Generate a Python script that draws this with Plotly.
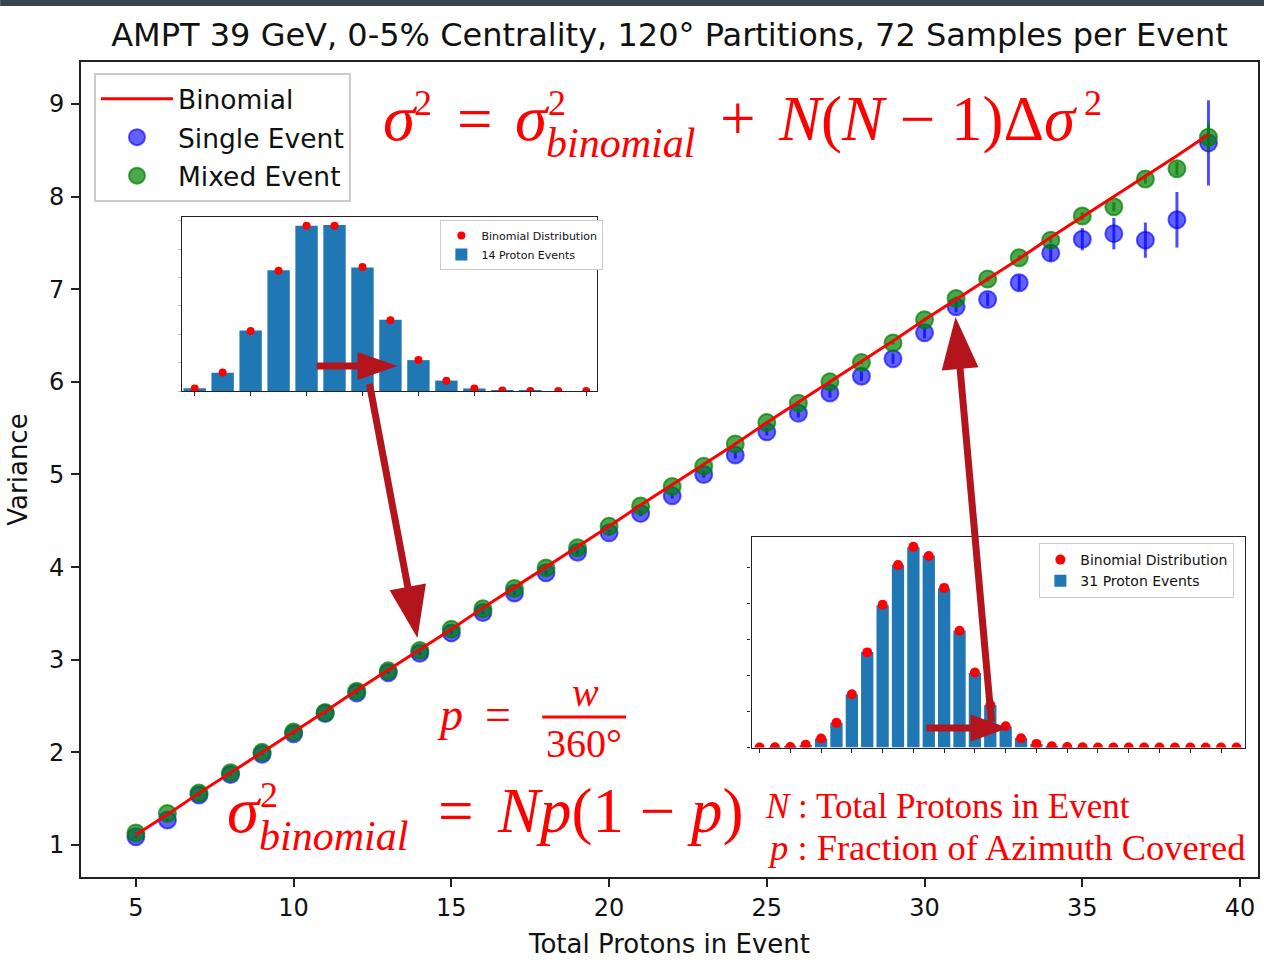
import plotly.graph_objects as go

# ---------------- data ----------------
n_protons = list(range(5, 40))

binomial_var = [1.11, 1.33, 1.56, 1.78, 2.00, 2.22, 2.44, 2.67, 2.89, 3.11,
                3.33, 3.56, 3.78, 4.00, 4.22, 4.44, 4.67, 4.89, 5.11, 5.33,
                5.56, 5.78, 6.00, 6.22, 6.44, 6.67, 6.89, 7.11, 7.33, 7.56,
                7.78, 8.00, 8.22, 8.44, 8.67]

single_var = [1.09, 1.27, 1.54, 1.76, 1.98, 2.20, 2.42, 2.64, 2.86, 3.07,
              3.29, 3.51, 3.72, 3.94, 4.16, 4.37, 4.58, 4.77, 5.00, 5.21,
              5.46, 5.66, 5.88, 6.06, 6.25, 6.53, 6.81, 6.89, 7.07, 7.39,
              7.54, 7.60, 7.53, 7.75, 8.58]
single_err = [0.01, 0.01, 0.01, 0.01, 0.01, 0.01, 0.015, 0.015, 0.015, 0.02,
              0.02, 0.02, 0.02, 0.025, 0.025, 0.03, 0.03, 0.03, 0.035, 0.04,
              0.04, 0.045, 0.05, 0.05, 0.055, 0.06, 0.06, 0.07, 0.08, 0.09,
              0.12, 0.17, 0.19, 0.30, 0.46]

mixed_var = [1.13, 1.34, 1.56, 1.78, 2.00, 2.22, 2.43, 2.66, 2.88, 3.10,
             3.33, 3.55, 3.77, 3.99, 4.21, 4.44, 4.66, 4.87, 5.09, 5.33,
             5.56, 5.77, 6.00, 6.21, 6.42, 6.67, 6.90, 7.11, 7.34, 7.53,
             7.79, 7.89, 8.19, 8.30, 8.64]
mixed_err = [0.005, 0.005, 0.005, 0.005, 0.005, 0.005, 0.005, 0.005, 0.005, 0.008,
             0.008, 0.008, 0.008, 0.01, 0.01, 0.01, 0.01, 0.012, 0.012, 0.012,
             0.015, 0.015, 0.015, 0.018, 0.018, 0.02, 0.02, 0.025, 0.025, 0.03,
             0.04, 0.05, 0.05, 0.07, 0.15]

k_14 = list(range(15))
binom_14 = [0.0034, 0.0240, 0.0779, 0.1559, 0.2143, 0.2143, 0.1607, 0.0918,
            0.0402, 0.0134, 0.0033, 0.0006, 0.0001, 0.0000, 0.0000]
events_14 = [0.0036, 0.0236, 0.0784, 0.1566, 0.2141, 0.2150, 0.1601, 0.0924,
             0.0400, 0.0135, 0.0033, 0.0006, 0.0001, 0.0000, 0.0000]

k_31 = list(range(32))
binom_31 = [0.0000, 0.0001, 0.0004, 0.0020, 0.0068, 0.0185, 0.0400, 0.0714,
            0.1071, 0.1369, 0.1506, 0.1438, 0.1198, 0.0876, 0.0563, 0.0319,
            0.0160, 0.0070, 0.0027, 0.0009, 0.0003, 0.0001, 0.0000, 0.0000,
            0.0000, 0.0000, 0.0000, 0.0000, 0.0000, 0.0000, 0.0000, 0.0000]
events_31 = [0.0000, 0.0001, 0.0004, 0.0019, 0.0067, 0.0186, 0.0398, 0.0716,
             0.1068, 0.1372, 0.1503, 0.1441, 0.1195, 0.0879, 0.0560, 0.0317,
             0.0158, 0.0071, 0.0027, 0.0009, 0.0003, 0.0001, 0.0000, 0.0000,
             0.0000, 0.0000, 0.0000, 0.0000, 0.0000, 0.0000, 0.0000, 0.0000]

x_ticks = [5, 10, 15, 20, 25, 30, 35, 40]
y_ticks = [1, 2, 3, 4, 5, 6, 7, 8, 9]

TITLE = "AMPT 39 GeV, 0-5% Centrality, 120° Partitions, 72 Samples per Event"

# ---------------- geometry helpers ----------------
W, H = 1266, 962
ML, MR, MT, MB = 81, 6, 62, 85
PW = W - ML - MR
PH = H - MT - MB
ARROW_RED = "rgb(180,20,28)"
SERIF = "Liberation Serif"


def paper(x, y):
    """Figure pixel position -> paper coordinates."""
    return (x - ML) / PW, (H - MB - y) / PH


def domain(x0, x1, y_top, y_bottom):
    a, b = paper(x0, y_bottom)
    c, d = paper(x1, y_top)
    return [a, c], [b, d]


fig = go.Figure()

# ---------------- main panel ----------------
fig.add_trace(go.Scatter(
    x=n_protons, y=single_var, mode="markers", name="Single Event",
    legendgroup="s", legendrank=2,
    marker=dict(size=17, color="rgba(0,0,255,0.62)",
                line=dict(color="rgba(0,0,255,0.62)", width=2)),
    error_y=dict(type="data", array=single_err, color="rgba(0,0,255,0.7)",
                 thickness=3, width=0),
))
fig.add_trace(go.Scatter(
    x=n_protons, y=mixed_var, mode="markers", name="Mixed Event",
    legendgroup="m", legendrank=3,
    marker=dict(size=17, color="rgba(0,128,0,0.7)",
                line=dict(color="rgba(0,128,0,0.7)", width=2)),
    error_y=dict(type="data", array=mixed_err, color="rgba(0,128,0,0.75)",
                 thickness=3, width=0),
))
fig.add_trace(go.Scatter(
    x=n_protons, y=binomial_var, mode="lines", name="Binomial",
    legendgroup="b", legendrank=1,
    line=dict(color="#ff0000", width=3),
))

# ---------------- inset distributions ----------------
fig.add_trace(go.Bar(
    x=k_14, y=events_14, name="14 Proton Events", width=0.8,
    marker=dict(color="#1f77b4", line=dict(width=0)),
    xaxis="x2", yaxis="y2", legend="legend2", legendrank=2,
))
fig.add_trace(go.Scatter(
    x=k_14, y=binom_14, mode="markers", name="Binomial Distribution",
    marker=dict(color="#ff0000", size=8),
    xaxis="x2", yaxis="y2", legend="legend2", legendrank=1,
))
fig.add_trace(go.Bar(
    x=k_31, y=events_31, name="31 Proton Events", width=0.8,
    marker=dict(color="#1f77b4", line=dict(width=0)),
    xaxis="x3", yaxis="y3", legend="legend3", legendrank=2,
))
fig.add_trace(go.Scatter(
    x=k_31, y=binom_31, mode="markers", name="Binomial Distribution",
    marker=dict(color="#ff0000", size=10),
    xaxis="x3", yaxis="y3", legend="legend3", legendrank=1,
))

frame = dict(showline=True, linecolor="#222", mirror=True, showgrid=False,
             zeroline=False)
main_axis = dict(frame, linewidth=2, ticks="outside", ticklen=8, tickwidth=1.5,
                 tickcolor="#222", tickfont=dict(size=24, color="#111"))
inset_axis = dict(frame, linewidth=1.2, ticks="outside", ticklen=4, tickwidth=1,
                  tickcolor="#222", showticklabels=False)

in1_x, in1_y = domain(182, 598, 217, 391)
in2_x, in2_y = domain(752.7, 1246.7, 537, 747.5)

lg_main = paper(94, 73)
lg_in1 = paper(441, 220)
lg_in2 = paper(1041, 543)

fig.update_layout(
    width=W, height=H,
    margin=dict(l=ML, r=MR, t=MT, b=MB),
    paper_bgcolor="white", plot_bgcolor="white",
    font=dict(family="DejaVu Sans", color="#111"),
    title=dict(text=TITLE, x=0.5, xref="paper", xanchor="center",
               y=1 - 35 / H, yref="container", yanchor="middle",
               font=dict(size=32, color="#111")),
    xaxis=dict(main_axis, range=[3.26, 40.57], tickvals=x_ticks,
               ticklabelstandoff=0,
               title=dict(text="Total Protons in Event", font=dict(size=26),
                          standoff=14)),
    yaxis=dict(main_axis, range=[0.6545, 9.453], tickvals=y_ticks,
               ticklabelstandoff=2,
               title=dict(text="Variance", font=dict(size=26), standoff=14)),
    xaxis2=dict(inset_axis, domain=in1_x, anchor="y2", range=[-0.46, 14.39],
                tickvals=k_14[::2]),
    yaxis2=dict(inset_axis, domain=in1_y, anchor="x2", range=[0, 0.2255],
                dtick=0.0368, ticklen=3, tickcolor="#bbbbbb"),
    xaxis3=dict(inset_axis, domain=in2_x, anchor="y3", range=[-0.52, 31.54],
                tickvals=k_31[::2]),
    yaxis3=dict(inset_axis, domain=in2_y, anchor="x3", range=[0, 0.158],
                dtick=0.027, ticklen=3),
    legend=dict(x=lg_main[0], y=lg_main[1], xanchor="left", yanchor="top",
                bgcolor="white", bordercolor="#cccccc", borderwidth=2,
                font=dict(size=26.5, color="#111"), itemwidth=72,
                tracegroupgap=1),
    legend2=dict(x=lg_in1[0], y=lg_in1[1], xanchor="left", yanchor="top",
                 bgcolor="white", bordercolor="#cccccc", borderwidth=1,
                 font=dict(size=11, color="#111"), itemwidth=30),
    legend3=dict(x=lg_in2[0], y=lg_in2[1], xanchor="left", yanchor="top",
                 bgcolor="white", bordercolor="#cccccc", borderwidth=1,
                 font=dict(size=14, color="#111"), itemwidth=30),
    barmode="overlay",
)

# ---------------- decorations ----------------
shapes = []

# dark header strip along the top edge
sx0, sy0 = paper(0, 0)
sx1, sy1 = paper(W, 6)
shapes.append(dict(type="rect", xref="paper", yref="paper", x0=sx0, x1=sx1,
                   y0=sy1, y1=sy0, fillcolor="#36454f", line=dict(width=0),
                   layer="above"))


def arrow(tail, tip, head_len, head_w, shaft_w=7):
    tx, ty = tail
    hx, hy = tip
    dx, dy = hx - tx, hy - ty
    length = (dx * dx + dy * dy) ** 0.5
    ux, uy = dx / length, dy / length
    px_, py_ = -uy, ux
    bx, by = hx - ux * head_len, hy - uy * head_len
    ex, ey = hx - ux * head_len * 0.8, hy - uy * head_len * 0.8
    p0 = paper(tx, ty)
    p1 = paper(ex, ey)
    shapes.append(dict(type="line", xref="paper", yref="paper",
                       x0=p0[0], y0=p0[1], x1=p1[0], y1=p1[1],
                       line=dict(color=ARROW_RED, width=shaft_w), layer="above"))
    a = paper(hx, hy)
    b = paper(bx + px_ * head_w / 2, by + py_ * head_w / 2)
    c = paper(bx - px_ * head_w / 2, by - py_ * head_w / 2)
    path = f"M {a[0]},{a[1]} L {b[0]},{b[1]} L {c[0]},{c[1]} Z"
    shapes.append(dict(type="path", xref="paper", yref="paper", path=path,
                       fillcolor=ARROW_RED, line=dict(width=0), layer="above"))


arrow((317, 366), (398, 366), 40, 28)
arrow((370, 384), (418, 638), 52, 37)
arrow((993, 722), (957, 317), 52, 37)
arrow((928, 728), (1010, 728), 38, 27)

# fraction bar of p = w / 360°
f0 = paper(543, 717)
f1 = paper(627, 717)
shapes.append(dict(type="line", xref="paper", yref="paper", x0=f0[0], y0=f0[1],
                   x1=f1[0], y1=f1[1], line=dict(color="#ff0000", width=3),
                   layer="above"))

annotations = []


def label(text, x, baseline, size, anchor="left"):
    xp, _ = paper(x, 0)
    _, yp = paper(0, baseline - 0.3375 * size)
    annotations.append(dict(text=text, x=xp, y=yp, xref="paper", yref="paper",
                            xanchor=anchor, yanchor="middle", showarrow=False,
                            borderpad=0,
                            font=dict(family=SERIF, size=size, color="#ff0000")))


# sigma^2 = sigma^2_binomial + N(N-1) Delta sigma^2
label("<i>σ</i>", 383, 140, 65)
label("2", 414, 115, 36)
label("=", 457, 140, 63)
label("<i>σ</i>", 515, 140, 65)
label("2", 548, 115, 36)
label("<i>binomial</i>", 546, 157, 42)
label("+", 720, 140, 63)
label("<i>N</i>(<i>N</i> − 1)Δ<i>σ</i>", 778, 140, 63)
label("2", 1085, 115, 36)

# sigma^2_binomial = N p (1 - p)
label("<i>σ</i>", 226, 832, 65)
label("2", 259, 807, 36)
label("<i>binomial</i>", 258, 850, 42)
label("=", 438, 832, 63)
label("<i>Np</i>(1 − <i>p</i>)", 497, 832, 63)

# p = w / 360°
label("<i>p</i>", 437, 730, 46)
label("=", 485, 730, 46)
label("<i>w</i>", 586, 706, 40, anchor="center")
label("360°", 585, 757, 40, anchor="center")

# symbol definitions
label("<i>N</i> : Total Protons in Event", 765, 818, 35)
label("<i>p</i> : Fraction of Azimuth Covered", 767, 860, 36.5)

fig.update_layout(shapes=shapes, annotations=annotations)

fig.write_html("out.html")
